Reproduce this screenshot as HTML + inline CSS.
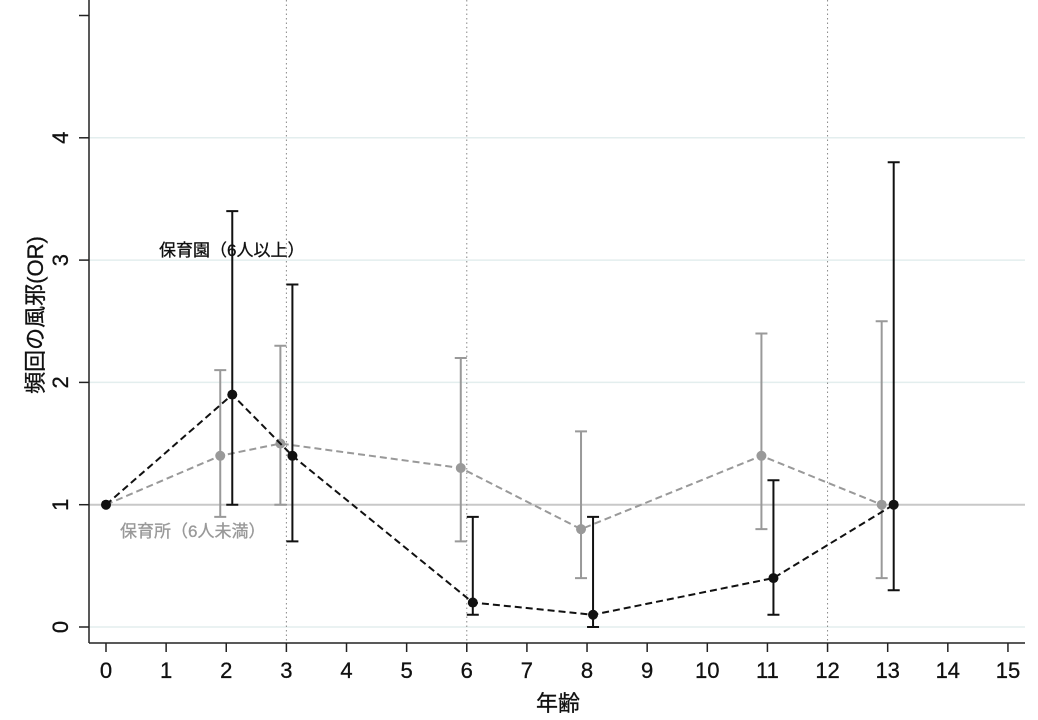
<!DOCTYPE html>
<html><head><meta charset="utf-8"><style>
html,body{margin:0;padding:0;background:#fff;}
svg{display:block;font-family:"Liberation Sans","Noto Sans CJK JP",sans-serif;}
</style></head><body>
<svg id="chart" width="1038" height="720" viewBox="0 0 1038 720" xmlns="http://www.w3.org/2000/svg">
<g id="grid"></g>
<g id="axes"></g>
<g id="series"></g>
<text x="159" y="256" font-size="17" fill="#111" stroke="#111" stroke-width="0.3">保育園（6人以上）</text>
<text x="120" y="537" font-size="17" fill="#999" stroke="#999" stroke-width="0.3">保育所（6人未満）</text>
<text x="558" y="711" font-size="22" text-anchor="middle" fill="#111" stroke="#111" stroke-width="0.3">年齢</text>
<text transform="translate(43,315) rotate(-90)" font-size="22" text-anchor="middle" fill="#111" stroke="#111" stroke-width="0.3">頻回の風邪(OR)</text>
</svg>
<script>
const xTicks=[0,1,2,3,4,5,6,7,8,9,10,11,12,13,14,15];
const yTicks=[0,1,2,3,4];
const yExtraTick=[5];
const vLines=[3,6,12];
const blackX=[0,2.1,3.1,6.1,8.1,11.1,13.1];
const blackY=[1,1.9,1.4,0.2,0.1,0.4,1.0];
const blackLo=[null,1.0,0.7,0.1,0.0,0.1,0.3];
const blackHi=[null,3.4,2.8,0.9,0.9,1.2,3.8];
const grayX=[0,1.9,2.9,5.9,7.9,10.9,12.9];
const grayY=[1,1.4,1.5,1.3,0.8,1.4,1.0];
const grayLo=[null,0.9,1.0,0.7,0.4,0.8,0.4];
const grayHi=[null,2.1,2.3,2.2,1.6,2.4,2.5];

const NS="http://www.w3.org/2000/svg";
const sx=v=>106+v*60.13;
const sy=v=>627-v*122.3;
const L=89,R=1025,B=643;
function mk(tag,attrs,parent){const e=document.createElementNS(NS,tag);for(const k in attrs)e.setAttribute(k,attrs[k]);document.getElementById(parent).appendChild(e);return e;}

yTicks.forEach(v=>{
  const l=mk('line',{x1:L,x2:R,y1:sy(v),y2:sy(v),stroke:v===1?'#c8c8c8':'#e3eeee','stroke-width':v===1?2:1.5},'grid');
  
  
});
vLines.forEach(v=>{
  const l=mk('line',{x1:sx(v),x2:sx(v),y1:0,y2:B,stroke:'#888','stroke-width':1,'stroke-dasharray':'1.5,3'},'grid');
  
  
});
let a=mk('line',{x1:L,x2:L,y1:0,y2:B,stroke:'#222','stroke-width':1.5},'axes');


a=mk('line',{x1:L,x2:R,y1:B,y2:B,stroke:'#222','stroke-width':1.5},'axes');


xTicks.forEach(v=>{
  const t=mk('line',{x1:sx(v),x2:sx(v),y1:B,y2:B+9,stroke:'#222','stroke-width':1.5},'axes');
  
  
  const tx=mk('text',{x:sx(v),y:678,'font-size':22,'text-anchor':'middle',fill:'#111',stroke:'#111','stroke-width':0.3},'axes');
  tx.textContent=v;
  
  
});
yTicks.concat(yExtraTick).forEach(v=>{
  const t=mk('line',{x1:L-10,x2:L,y1:sy(v),y2:sy(v),stroke:'#222','stroke-width':1.5},'axes');
  
  
});
yTicks.forEach(v=>{
  const tx=mk('text',{transform:`translate(68,${sy(v)}) rotate(-90)`,'font-size':22,'text-anchor':'middle',fill:'#111',stroke:'#111','stroke-width':0.3},'axes');
  tx.textContent=v;
  
  
});
function series(xs,ys,lo,hi,col,name){
  const p=mk('polyline',{points:xs.map((x,i)=>sx(x)+','+sy(ys[i])).join(' '),fill:'none',stroke:col,'stroke-width':2,'stroke-dasharray':'7,4'},'series');
  
  
  xs.forEach((x,i)=>{
    if(lo[i]!==null){
      const e=mk('path',{d:`M${sx(x)},${sy(lo[i])}V${sy(hi[i])}M${sx(x)-6},${sy(lo[i])}h12M${sx(x)-6},${sy(hi[i])}h12`,stroke:col,'stroke-width':2,fill:'none'},'series');
      
      
    }
    const c=mk('circle',{cx:sx(x),cy:sy(ys[i]),r:5,fill:col},'series');
    
    
  });
}
series(grayX,grayY,grayLo,grayHi,'#999','hoikusho');
series(blackX,blackY,blackLo,blackHi,'#111','hoikuen');
</script>
</body></html>
